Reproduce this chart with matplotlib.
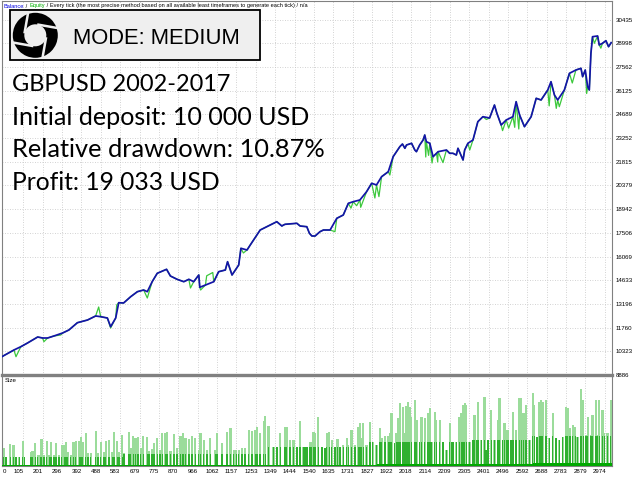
import matplotlib

matplotlib.use("Agg")
import matplotlib.pyplot as plt
import numpy as np
from matplotlib.patches import Rectangle, Wedge
from matplotlib.transforms import ScaledTranslation

# balance after each closed trade
balance_trades = [0, 59, 93, 126, 176, 200, 225, 256, 299, 330,
                  372, 422, 462, 487, 520, 536, 561, 576, 600, 635,
                  668, 699, 717, 741, 766, 812, 831, 864, 897, 922,
                  946, 971, 976, 1004, 1045, 1069, 1102, 1113, 1135, 1168,
                  1179, 1209, 1225, 1274, 1307, 1315, 1356, 1381, 1389, 1397,
                  1455, 1471, 1504, 1517, 1529,
                  1545, 1569, 1586, 1619, 1652, 1684, 1709, 1733, 1766, 1799,
                  1824, 1848, 1873, 1906, 1930, 1963, 1976, 1988, 1996, 2021,
                  2037, 2045, 2061, 2078, 2086, 2094,
                  2111, 2127, 2144, 2152, 2176, 2193, 2209, 2225, 2242, 2250,
                  2275, 2283, 2299, 2324, 2348,
                  2373, 2406, 2430, 2442, 2463, 2488, 2521, 2537, 2554, 2578,
                  2611, 2636, 2660, 2693, 2709, 2726, 2742, 2775, 2800, 2832,
                  2857, 2865, 2878, 2890, 2898, 2906, 2914, 2939, 2947, 2963,
                  2980, 2993, 3006]
balance_values = [10000, 10402, 10602, 10826, 11190, 11129, 11129, 11250, 11432, 11614,
                  12056, 12220, 12463, 12420, 12341, 11814, 12341, 13269, 13251, 13633,
                  13936, 14039, 13936, 14542, 15051, 15294, 14887, 14687, 14542, 14687,
                  14542, 14948, 14202, 14342, 14542, 15148, 15251, 15754, 14948, 15554,
                  16567, 16464, 16767, 17676, 17876, 17918, 18179, 17918, 17978, 18022,
                  18082, 17918, 17876, 17476, 17312,
                  17312, 17573, 17676, 17676, 18385, 18585, 19294, 19391, 19495, 19998,
                  20507, 20406, 20907, 21210, 22119, 22726, 22889, 22629, 22829, 22932,
                  22526, 22423, 22829, 23132, 23435, 23029,
                  22932, 22119, 22326, 22423, 22483, 22526, 22326, 22326, 22222, 22629,
                  21919, 22526, 22932, 23132, 24241,
                  24545, 24465, 25253, 24750, 24041, 24344, 24545, 25454, 24647, 23938,
                  24545, 25660, 25557, 26163, 26666, 25860, 25557, 26163, 27175, 27375,
                  27478, 26969, 27375, 26363, 26163, 28388, 29394, 29437, 28891, 28994,
                  29152, 28788, 29033]

# equity where it differs from balance (open positions)
equity_trades = [69, 207, 290, 477, 536, 566, 717, 930, 980, 1010,
                 1040, 1191, 1643, 1722, 1750, 1770, 1840, 1860, 1914, 2091,
                 2105, 2122, 2150, 2176, 2308, 2390, 2470, 2500, 2530, 2550,
                 2700, 2735, 2750, 2814, 2885, 2923, 2955]
equity_values = [9995, 10905, 11311, 13008, 11735, 13130, 13554, 14160, 14039, 14900,
                 15100, 16282, 17573, 19000, 19150, 19050, 19616, 19700, 21010, 22101,
                 22200, 21738, 21800, 21760, 22526, 24374, 23700, 23850, 23900, 23800,
                 25200, 25050, 25150, 26587, 25950, 28994, 28700]

y_ticks = [8886, 10323, 11760, 13196, 14633, 16069, 17506, 18942,
           20379, 21815, 23252, 24689, 26125, 27562, 28998, 30435]
x_ticks = [0, 105, 201, 296, 392, 488, 583, 679, 775, 870, 966, 1062, 1157, 1253,
           1349, 1444, 1540, 1635, 1731, 1827, 1922, 2018, 2114, 2209, 2305, 2401,
           2496, 2592, 2688, 2783, 2879, 2974]

# lot size per trade
size_trades = [8, 20, 41, 57, 69, 85, 102, 110, 143, 151, 164, 176, 189, 195, 208, 221,
               233, 241, 257, 266, 282, 295, 307, 315, 323, 339, 353, 364, 381, 389, 397,
               413, 425, 438, 462, 474, 487, 504, 512, 528, 545, 553, 569, 577, 594, 602,
               627, 635, 648, 659, 672, 684, 697, 717, 725, 741, 750, 766, 779, 791, 807,
               815, 832, 848, 864, 881, 894, 905, 922, 938, 954, 971, 979, 995, 1012, 1028,
               1053, 1061, 1086, 1110, 1127, 1143, 1156, 1168, 1184, 1200, 1217, 1233,
               1250, 1258, 1274, 1291, 1299, 1315, 1340, 1356, 1373, 1397, 1405, 1422,
               1438, 1455, 1471, 1487, 1496, 1504, 1520, 1528, 1537, 1545, 1561, 1578,
               1594, 1602, 1615, 1627, 1643, 1655, 1668, 1684, 1701, 1709, 1725, 1742,
               1758, 1766, 1774, 1783, 1799, 1815, 1829, 1848, 1865, 1873, 1889, 1906,
               1914, 1922, 1938, 1947, 1955, 1963, 1979, 1988, 1996, 2004, 2012, 2020,
               2037, 2045, 2061, 2070, 2086, 2102, 2111, 2119, 2135, 2143, 2160, 2176,
               2193, 2209, 2217, 2225, 2242, 2258, 2266, 2275, 2283, 2291, 2307, 2324,
               2332, 2340, 2348, 2365, 2381, 2389, 2398, 2414, 2430, 2447, 2455, 2471,
               2480, 2488, 2496, 2512, 2521, 2537, 2553, 2562, 2573, 2586, 2603, 2619,
               2627, 2639, 2652, 2660, 2668, 2685, 2701, 2717, 2734, 2750, 2767, 2783,
               2791, 2803, 2816, 2829, 2840, 2857, 2868, 2881, 2890, 2906, 2914, 2931,
               2939, 2947, 2963, 2972, 2988, 3004]
size_lots = [0.18, 0.09, 0.22, 0.21, 0.09, 0.09, 0.25, 0.09, 0.14, 0.15, 0.23, 0.11, 0.11,
             0.27, 0.11, 0.25, 0.11, 0.24, 0.11, 0.23, 0.11, 0.21, 0.21, 0.24, 0.14, 0.11,
             0.24, 0.25, 0.25, 0.29, 0.24, 0.33, 0.13, 0.13, 0.35, 0.13, 0.24, 0.14, 0.25,
             0.26, 0.14, 0.34, 0.25, 0.14, 0.31, 0.13, 0.34, 0.18, 0.30, 0.28, 0.29, 0.18,
             0.30, 0.29, 0.15, 0.17, 0.23, 0.28, 0.16, 0.33, 0.33, 0.34, 0.15, 0.32, 0.18,
             0.30, 0.33, 0.28, 0.27, 0.30, 0.28, 0.16, 0.33, 0.26, 0.16, 0.28, 0.16, 0.33,
             0.23, 0.34, 0.38, 0.16, 0.16, 0.16, 0.18, 0.18, 0.36, 0.35, 0.36, 0.39, 0.33,
             0.45, 0.50, 0.40, 0.19, 0.19, 0.33, 0.39, 0.39, 0.26, 0.26, 0.19, 0.45, 0.19,
             0.19, 0.19, 0.24, 0.24, 0.34, 0.33, 0.49, 0.19, 0.18, 0.33, 0.34, 0.26, 0.19,
             0.27, 0.19, 0.21, 0.28, 0.21, 0.36, 0.21, 0.39, 0.43, 0.28, 0.43, 0.21, 0.44,
             0.24, 0.21, 0.38, 0.28, 0.30, 0.30, 0.33, 0.53, 0.23, 0.33, 0.48, 0.63, 0.59,
             0.33, 0.60, 0.64, 0.59, 0.49, 0.66, 0.46, 0.24, 0.49, 0.48, 0.53, 0.58, 0.24,
             0.54, 0.46, 0.46, 0.24, 0.16, 0.43, 0.24, 0.24, 0.24, 0.49, 0.53, 0.61, 0.63,
             0.61, 0.24, 0.26, 0.51, 0.26, 0.64, 0.26, 0.69, 0.16, 0.26, 0.56, 0.26, 0.46,
             0.68, 0.26, 0.43, 0.36, 0.36, 0.26, 0.54, 0.36, 0.68, 0.68, 0.53, 0.61, 0.26,
             0.73, 0.61, 0.29, 0.64, 0.66, 0.64, 0.66, 0.28, 0.53, 0.28, 0.26, 0.29, 0.59,
             0.58, 0.38, 0.41, 0.39, 0.29, 0.77, 0.66, 0.31, 0.49, 0.31, 0.51, 0.66, 0.31,
             0.66, 0.56, 0.33, 0.33, 0.66]

# usual lot level (dark part of the bars) and the minimum-lot strip at the bottom
base_edges = [0, 600, 1300, 1800, 2300, 2600, 3010]
base_levels = [0.09, 0.12, 0.19, 0.24, 0.26, 0.30]
strip_edges = [0, 1100, 1850, 2620, 3010]
strip_levels = [0.008, 0.012, 0.02, 0.034]

W, H = 640, 480
GRID = "#c4c4c4"
FRAME = "#808080"

fig = plt.figure(figsize=(W / 100, H / 100), dpi=100)
fig.patch.set_facecolor("white")


def px_box(left, top, right, bottom):
    return [left / W, 1 - bottom / H, (right - left) / W, (bottom - top) / H]


ax = fig.add_axes(px_box(2, 1, 612, 375))
ax_size = fig.add_axes(px_box(2, 375, 612, 466), sharex=ax)

# balance / equity panel
eq = dict(zip(balance_trades, balance_values))
eq.update(dict(zip(equity_trades, equity_values)))
eq_x = sorted(eq)
eq_y = [eq[t] for t in eq_x]
ax.plot(eq_x, eq_y, color="#3cc83c", linewidth=0.9, zorder=3)
ax.plot(balance_trades, balance_values, color="#1414a8", linewidth=1.25, zorder=4)

ax.set_xlim(0, 3010)
ax.set_ylim(8886, 31558)
ax.set_yticks(y_ticks)
ax.set_yticklabels([str(v) for v in y_ticks])
ax.yaxis.tick_right()
ax.tick_params(axis="y", length=0, pad=2.5, labelsize=4.4, labelfontfamily="Liberation Sans")
ax.tick_params(axis="x", length=0, labelbottom=False)
ax.grid(True, color=GRID, linestyle=(0, (1, 2)), linewidth=0.6)
for spine in ax.spines.values():
    spine.set_color(FRAME)
    spine.set_linewidth(0.8)

# size panel
size_trades_a = np.array(size_trades)
size_lots_a = np.array(size_lots)
level_idx = np.searchsorted(base_edges, size_trades_a, side="right") - 1
dark_part = np.minimum(size_lots_a, np.array(base_levels)[level_idx])
ax_size.bar(size_trades_a, size_lots_a, width=11, color="#9bdc9b", linewidth=0, zorder=2)
ax_size.bar(size_trades_a, dark_part, width=7, color="#2fb02f", linewidth=0, zorder=3)
ax_size.bar(strip_edges[:-1], strip_levels, width=np.diff(strip_edges), align="edge",
            color="#00a800", linewidth=0, zorder=4)
ax_size.set_ylim(0, 0.91)
ax_size.set_yticks([])
ax_size.set_xticks(x_ticks)
ax_size.set_xticklabels([str(v) for v in x_ticks])
ax_size.tick_params(axis="x", length=0, pad=2, labelsize=4.4, labelfontfamily="Liberation Sans")
ax_size.grid(True, axis="x", color=GRID, linestyle=(0, (1, 2)), linewidth=0.6)
for spine in ax_size.spines.values():
    spine.set_color(FRAME)
    spine.set_linewidth(0.8)
ax_size.spines["top"].set_linewidth(2.4)
ax_size.text(0.004, 0.97, "Size", transform=ax_size.transAxes, fontsize=4.4,
             family="Liberation Sans", va="top", ha="left")

shift = ScaledTranslation(-5 / 100, 0, fig.dpi_scale_trans)
for i, lab in enumerate(ax_size.get_xticklabels()):
    if i == 0:
        lab.set_ha("left")
        lab.set_transform(lab.get_transform() + ScaledTranslation(1 / 100, 0, fig.dpi_scale_trans))
    else:
        lab.set_transform(lab.get_transform() + shift)

# overlay in pixel coordinates for the annotations
ov = fig.add_axes([0, 0, 1, 1], zorder=10)
ov.set_xlim(0, W)
ov.set_ylim(H, 0)
ov.axis("off")
ov.patch.set_alpha(0)

fig.canvas.draw()
renderer = fig.canvas.get_renderer()


def fit_width(artist, target):
    w = artist.get_window_extent(renderer).width
    artist.set_fontsize(artist.get_fontsize() * target / w)


# tester header line
header = [("Balance", "#0000e0"), (" / ", "black"), ("Equity", "#00b000"),
          (" / Every tick (the most precise method based on all available least "
           "timeframes to generate each tick) / n/a", "black")]
probe = ov.text(4, 7.5, "".join(s for s, _ in header), fontsize=4, family="Liberation Sans")
fit_width(probe, 301)
hsize = probe.get_fontsize()
probe.remove()
hx = 4
for seg, col in header:
    t = ov.text(hx, 7.5, seg, fontsize=hsize, family="Liberation Sans", color=col,
                va="baseline", ha="left")
    hx += t.get_window_extent(renderer).width

# mode box with aperture logo (four slanted cuts)
ov.add_patch(Rectangle((10, 10), 250, 50, facecolor="#efefef", edgecolor="black", linewidth=1.3))
cx, cy, r_out, r_in = 35.3, 35.3, 22.5, 11
ov.add_patch(Wedge((cx, cy), r_out, 0, 360, width=r_out - r_in, facecolor="black", edgecolor="none"))
cut_len = np.sqrt(r_out ** 2 - r_in ** 2) + 2
for k in range(4):
    th = np.radians(-80 + 90 * k)
    px, py = cx + r_in * np.cos(th), cy + r_in * np.sin(th)
    ov.plot([px, px - cut_len * np.sin(th)], [py, py + cut_len * np.cos(th)],
            color="#efefef", linewidth=1.8, solid_capstyle="butt")
mode = ov.text(72.7, 44.5, "MODE: MEDIUM", fontsize=16, family="Liberation Sans",
               va="baseline", ha="left")
fit_width(mode, 168)

# summary text
summary = [("GBPUSD 2002-2017", 91, 218), ("Initial deposit: 10 000 USD", 125, 297),
           ("Relative drawdown: 10.87%", 157, 313), ("Profit: 19 033 USD", 190, 207)]
for line, base_y, width_px in summary:
    t = ov.text(11.7, base_y, line, fontsize=18, family="Lato", va="baseline", ha="left")
    fit_width(t, width_px)

fig.savefig("out.png", dpi=100)
